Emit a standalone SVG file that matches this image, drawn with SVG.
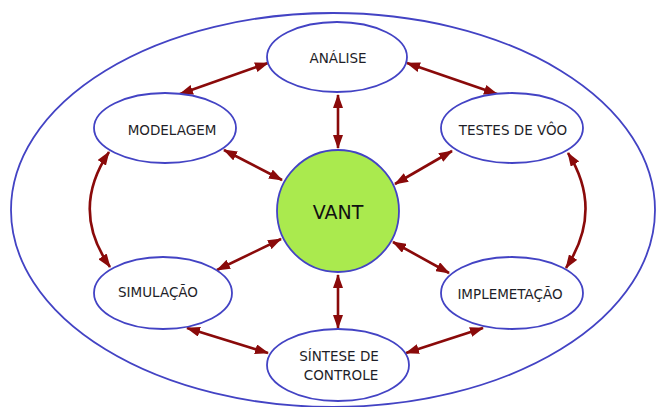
<svg xmlns="http://www.w3.org/2000/svg" width="657" height="407" viewBox="0 0 657 407">
<defs>
<style>
.node{fill:#fff;stroke:#4343c4;stroke-width:1.8}
.outer{fill:none;stroke:#4343c4;stroke-width:1.8}
.core{fill:#aaea4e;stroke:#4343c4;stroke-width:1.8}
.lbl{font-family:"DejaVu Sans",Verdana,sans-serif;font-size:13.5px;fill:#1e1e28;text-anchor:middle}
.big{font-family:"DejaVu Sans",Verdana,sans-serif;font-size:19px;fill:#111;text-anchor:middle}
.link{fill:none;stroke:#8a0a0a;stroke-width:2.6;marker-start:url(#ah);marker-end:url(#ah)}
</style>
<marker id="ah" markerUnits="userSpaceOnUse" markerWidth="14" markerHeight="10" refX="13" refY="5" orient="auto-start-reverse" viewBox="0 0 14 10">
<path d="M0,0 L14,5 L0,10 z" fill="#8a0a0a"/>
</marker>
</defs>
<rect width="657" height="407" fill="#fff"/>
<ellipse class="outer" cx="333" cy="210" rx="322" ry="197"/>
<g id="connectors">
<line class="link" x1="338" y1="95" x2="338" y2="148"/>
<line class="link" x1="338" y1="275" x2="338" y2="328"/>
<line class="link" x1="224" y1="150" x2="282" y2="180"/>
<line class="link" x1="452" y1="151" x2="395" y2="184"/>
<line class="link" x1="217" y1="270" x2="281" y2="239"/>
<line class="link" x1="449" y1="273" x2="393" y2="242"/>
<line class="link" x1="180" y1="94" x2="268" y2="63"/>
<line class="link" x1="407" y1="63" x2="497" y2="94"/>
<path class="link" d="M109,152 Q70,210 110,267"/>
<path class="link" d="M568,153 Q604,210 566,268"/>
<line class="link" x1="187" y1="328" x2="268" y2="353"/>
<line class="link" x1="483" y1="328" x2="406" y2="353"/>
</g>
<g id="vant">
<circle class="core" cx="338" cy="211" r="61"/>
<text class="big" x="338" y="219">VANT</text>
</g>
<g id="analise">
<ellipse class="node" cx="337" cy="57" rx="70" ry="35"/>
<text class="lbl" x="338" y="63">ANÁLISE</text>
</g>
<g id="modelagem">
<ellipse class="node" cx="165" cy="128" rx="71" ry="35"/>
<text class="lbl" x="172" y="135">MODELAGEM</text>
</g>
<g id="testes">
<ellipse class="node" cx="512" cy="128" rx="71" ry="35"/>
<text class="lbl" x="513" y="135">TESTES DE VÔO</text>
</g>
<g id="simulacao">
<ellipse class="node" cx="163" cy="293" rx="69" ry="36"/>
<text class="lbl" x="158" y="297">SIMULAÇÃO</text>
</g>
<g id="implementacao">
<ellipse class="node" cx="512" cy="293" rx="71" ry="36"/>
<text class="lbl" x="510" y="299">IMPLEMETAÇÃO</text>
</g>
<g id="sintese">
<ellipse class="node" cx="338" cy="365" rx="71" ry="36"/>
<text class="lbl" x="339" y="361">SÍNTESE DE</text>
<text class="lbl" x="341" y="380">CONTROLE</text>
</g>
</svg>
